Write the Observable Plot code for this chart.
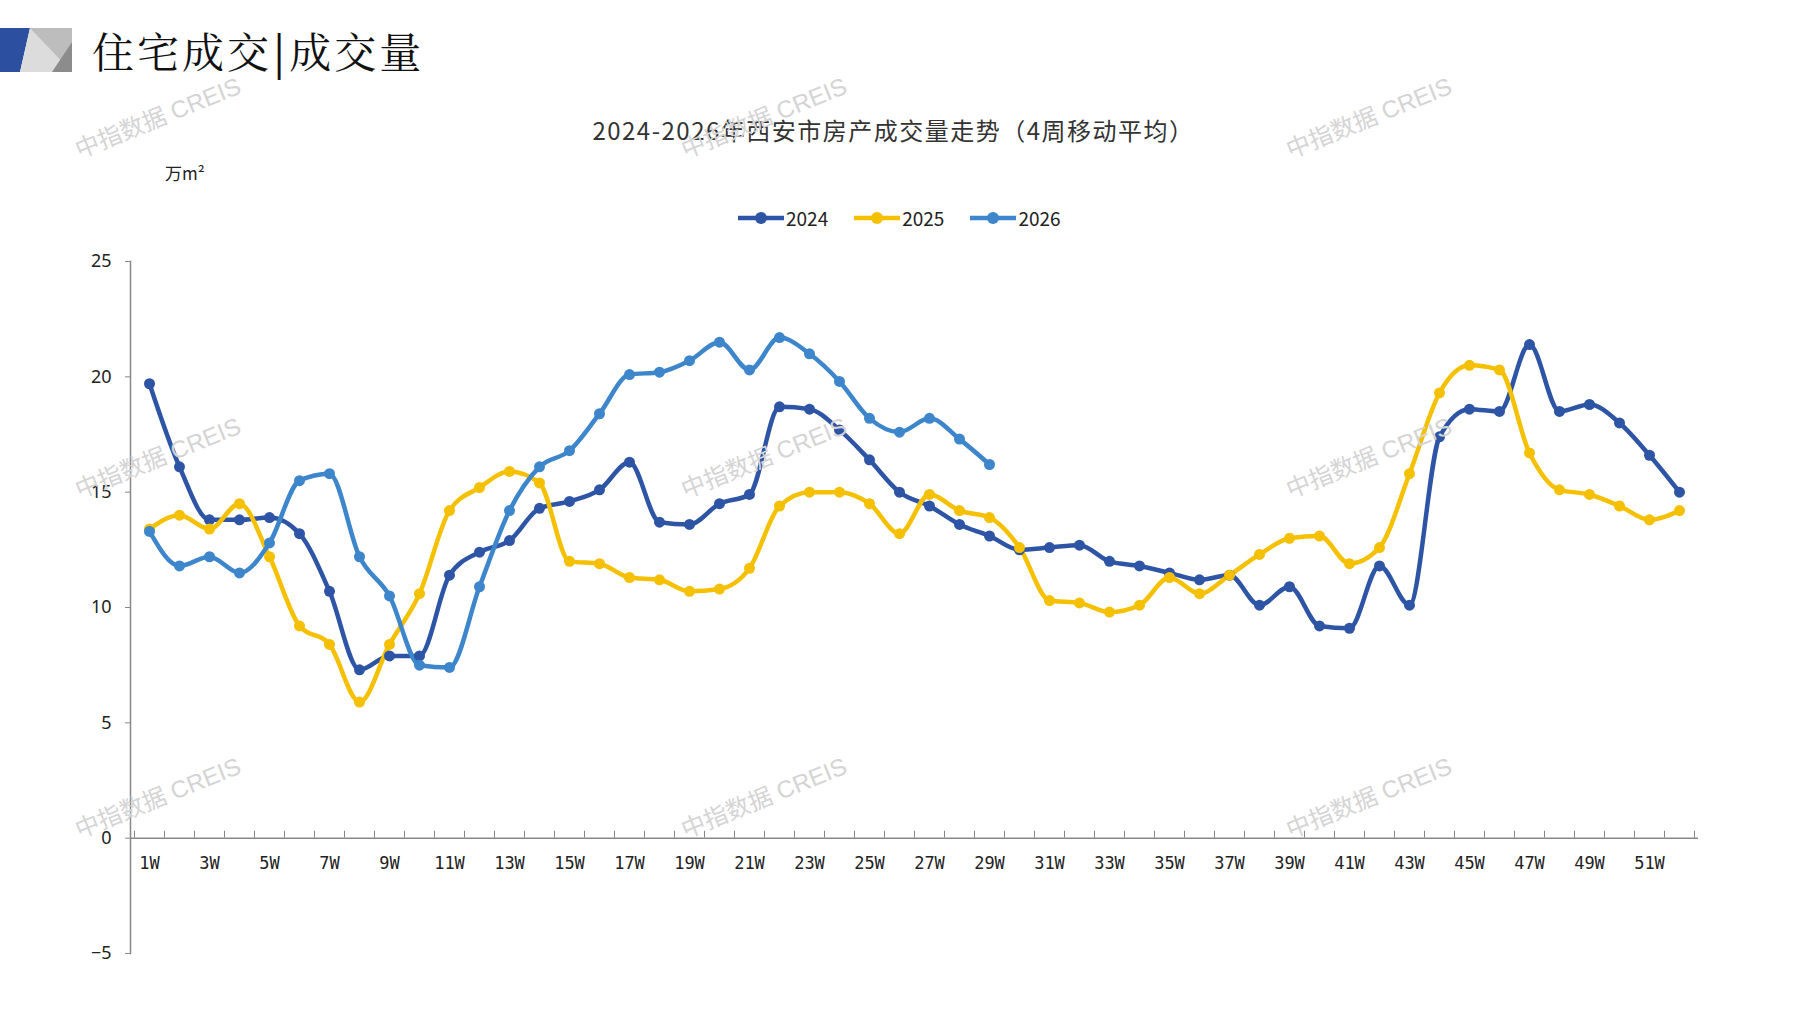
<!DOCTYPE html>
<html><head><meta charset="utf-8">
<script src="https://cdn.jsdelivr.net/npm/d3@7"></script>
<script src="https://cdn.jsdelivr.net/npm/@observablehq/plot@0.6"></script>
<style>
body{margin:0;background:#fff;width:1797px;height:1010px;position:relative;overflow:hidden;font-family:"Noto Sans CJK SC",sans-serif}
.abs{position:absolute}
.wm{position:absolute;color:#d4d4d4;font-size:24px;transform:rotate(-22deg);transform-origin:left bottom;white-space:nowrap;font-family:"Liberation Sans","Noto Sans CJK SC"}
</style></head><body>
<svg class="abs" style="left:0;top:28px" width="75" height="44">
<polygon points="0,0 30,0 20,44 0,44" fill="#2d4fa0"/>
<polygon points="30,0 72,0 72,44 20,44" fill="#dcdcdc"/>
<polygon points="30,0 72,0 72,44" fill="#bdbdbd"/>
<polygon points="72,14 72,44 52,44" fill="#8c8c8c"/>
</svg>
<div class="abs" style="left:92px;top:20px;font-size:42px;font-family:'Noto Serif CJK SC','Noto Sans CJK SC';letter-spacing:3px;color:#111">住宅成交<span style="font-weight:bold">|</span>成交量</div>
<div class="abs" style="left:0;width:1797px;top:112px;text-align:center;font-size:24px;letter-spacing:1.5px;color:#333;padding-right:10px;box-sizing:border-box">2024-2026年西安市房产成交量走势（4周移动平均）</div>
<div class="abs" style="left:165px;top:160px;font-size:17px;color:#222">万m²</div>
<div id="legend" class="abs" style="left:738px;top:204px;font-size:19px;color:#222;display:flex;gap:26px"></div>
<div id="chart" class="abs" style="left:0;top:0"></div>
<div class="wm" style="left:82px;top:130px">中指数据 CREIS</div>
<div class="wm" style="left:688px;top:130px">中指数据 CREIS</div>
<div class="wm" style="left:1293px;top:130px">中指数据 CREIS</div>
<div class="wm" style="left:82px;top:470px">中指数据 CREIS</div>
<div class="wm" style="left:688px;top:470px">中指数据 CREIS</div>
<div class="wm" style="left:1293px;top:470px">中指数据 CREIS</div>
<div class="wm" style="left:82px;top:810px">中指数据 CREIS</div>
<div class="wm" style="left:688px;top:810px">中指数据 CREIS</div>
<div class="wm" style="left:1293px;top:810px">中指数据 CREIS</div>
<script>
const weeks = d3.range(1,53);
const v2024 = [19.7,16.1,13.8,13.8,13.9,13.2,10.7,7.3,7.9,7.9,11.4,12.4,12.9,14.3,14.6,15.1,16.3,13.7,13.6,14.5,14.9,18.7,18.6,17.7,16.4,15.0,14.4,13.6,13.1,12.5,12.6,12.7,12.0,11.8,11.5,11.2,11.4,10.1,10.9,9.2,9.1,11.8,10.1,17.4,18.6,18.5,21.4,18.5,18.8,18.0,16.6,15.0];
const v2025 = [13.4,14.0,13.4,14.5,12.2,9.2,8.4,5.9,8.4,10.6,14.2,15.2,15.9,15.4,12.0,11.9,11.3,11.2,10.7,10.8,11.7,14.4,15.0,15.0,14.5,13.2,14.9,14.2,13.9,12.6,10.3,10.2,9.8,10.1,11.3,10.6,11.4,12.3,13.0,13.1,11.9,12.6,15.8,19.3,20.5,20.3,16.7,15.1,14.9,14.4,13.8,14.2];
const v2026 = [13.3,11.8,12.2,11.5,12.8,15.5,15.8,12.2,10.5,7.5,7.4,10.9,14.2,16.1,16.8,18.4,20.1,20.2,20.7,21.5,20.3,21.7,21.0,19.8,18.2,17.6,18.2,17.3,16.2];
const seriesNames = ["2024","2025","2026"];
const colors = ["#2e55a5","#f5c000","#3d86cc"];
const yTicks = [-5,0,5,10,15,20,25];
const xLabels = weeks.filter(w=>w%2===1);

const data = [];
[v2024,v2025,v2026].forEach((arr,i)=>arr.forEach((v,j)=>data.push({s:seriesNames[i],w:weeks[j],v})));

const plot = Plot.plot({
  width:1797,height:1010,
  marginLeft:130,marginRight:99,marginTop:261,marginBottom:57,
  x:{type:"band",domain:weeks,padding:0,axis:null},
  y:{domain:[-5,25],axis:null},
  color:{domain:seriesNames,range:colors},
  marks:[
    Plot.frame({anchor:"left",stroke:"#888",strokeWidth:1.5}),
    Plot.axisY({ticks:yTicks,label:null,tickSize:5,tickPadding:14,fontSize:18,color:"#222",stroke:"#888",tickFormat:d=>String(d).replace("-","−")}),
    Plot.ruleY([0],{stroke:"#888",strokeWidth:1.5}),
    Plot.ruleX(weeks,{x:d=>d,dx:-15,y1:0,y2:0.3,stroke:"#888"}),
    Plot.ruleX([52],{x:d=>d,dx:15,y1:0,y2:0.3,stroke:"#888"}),
    Plot.text(xLabels,{x:d=>d,y:0,text:d=>d+"W",dy:25,fontSize:17,fill:"#222",fontFamily:"'DejaVu Sans Mono'"}),
    Plot.line(data,{x:"w",y:"v",z:"s",stroke:"s",strokeWidth:4.5,curve:"monotone-x"}),
    Plot.dot(data,{x:"w",y:"v",fill:"s",r:5.5})
  ]
});
document.getElementById("chart").appendChild(plot);
const lg=document.getElementById("legend");
seriesNames.forEach((n,i)=>{lg.innerHTML+=`<span style="display:flex;align-items:center;gap:2px"><svg width="46" height="14"><line x1="0" y1="7" x2="46" y2="7" stroke="${colors[i]}" stroke-width="4.5"/><circle cx="23" cy="7" r="6" fill="${colors[i]}"/></svg>${n}</span>`;});
</script></body></html>
